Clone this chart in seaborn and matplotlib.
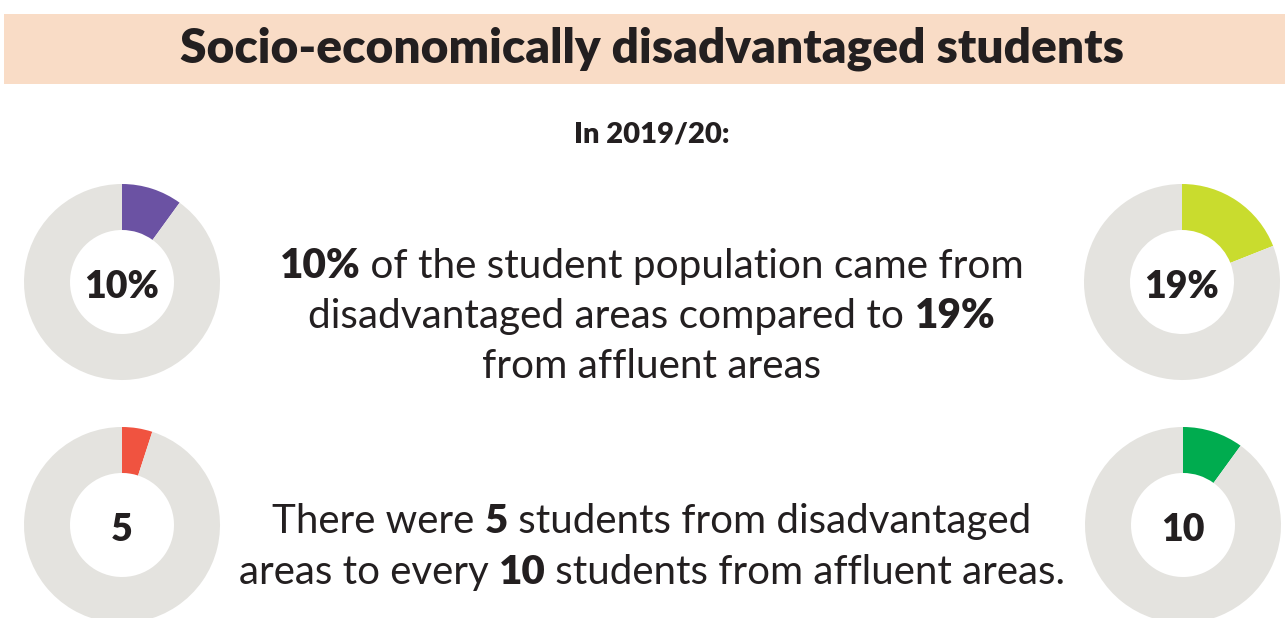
import matplotlib
matplotlib.use("Agg")
import matplotlib.pyplot as plt
import seaborn as sns

# values shown in the donuts
labels = ["10%", "19%", "5", "10"]
shares = [10, 19, 5, 10]
ring_colors = ["#6B52A3", "#C9DC2E", "#F05340", "#00AC4F"]
rest_color = "#E4E3DF"

title = "Socio-economically disadvantaged students"
subtitle = "In 2019/20:"
# text lines as (text, bold) segments
lines_top = [
    [("10%", True), (" of the student population came from", False)],
    [("disadvantaged areas compared to ", False), ("19%", True)],
    [("from affluent areas", False)],
]
lines_bottom = [
    [("There were ", False), ("5", True), (" students from disadvantaged", False)],
    [("areas to every ", False), ("10", True), (" students from affluent areas.", False)],
]

sns.set_theme(style="white")
plt.rcParams["font.family"] = ["Lato", "DejaVu Sans"]

W, H = 1285, 618
fig = plt.figure(figsize=(W / 100, H / 100), dpi=100)
ax = fig.add_axes([0, 0, 1, 1])
ax.set_xlim(0, W)
ax.set_ylim(H, 0)
ax.axis("off")

# banner
ax.add_patch(plt.Rectangle((4, 14), W - 4, 70, color="#F9DCC6", lw=0))
ax.text(652, 49, title, ha="center", va="center", fontsize=34.5,
        fontweight="heavy", color="#231F20")
ax.text(652, 135, subtitle, ha="center", va="center", fontsize=21,
        fontweight="heavy", color="#231F20")

renderer = fig.canvas.get_renderer()


def rich_line(x, y, parts, size):
    objs = []
    for txt, bold in parts:
        t = ax.text(0, y, txt, ha="left", va="baseline", fontsize=size,
                    fontweight="heavy" if bold else "normal", color="#231F20")
        objs.append(t)
    widths = [o.get_window_extent(renderer).width for o in objs]
    start = x - sum(widths) / 2
    for o, w in zip(objs, widths):
        o.set_x(start)
        start += w


for i, parts in enumerate(lines_top):
    rich_line(652, 278 + i * 50, parts, 29.2)
for i, parts in enumerate(lines_bottom):
    rich_line(652, 533 + i * 51, parts, 29)

# donuts
centers = [(122, 282), (1182, 282), (122, 525), (1183, 525)]
R, r = 98, 52
for (cx, cy), lab, val, col in zip(centers, labels, shares, ring_colors):
    dax = fig.add_axes([(cx - R) / W, (H - cy - R) / H, 2 * R / W, 2 * R / H])
    dax.pie([val, 100 - val], colors=[col, rest_color], startangle=90,
            counterclock=False, radius=1,
            wedgeprops=dict(width=(R - r) / R, linewidth=0))
    dax.set_xlim(-1, 1)
    dax.set_ylim(-1, 1)
    dax.set_aspect("equal")
    dax.axis("off")
    dax.text(0, -0.05, lab, ha="center", va="center", fontsize=27,
             fontweight="heavy", color="#231F20")

fig.savefig("out.png", dpi=100)
